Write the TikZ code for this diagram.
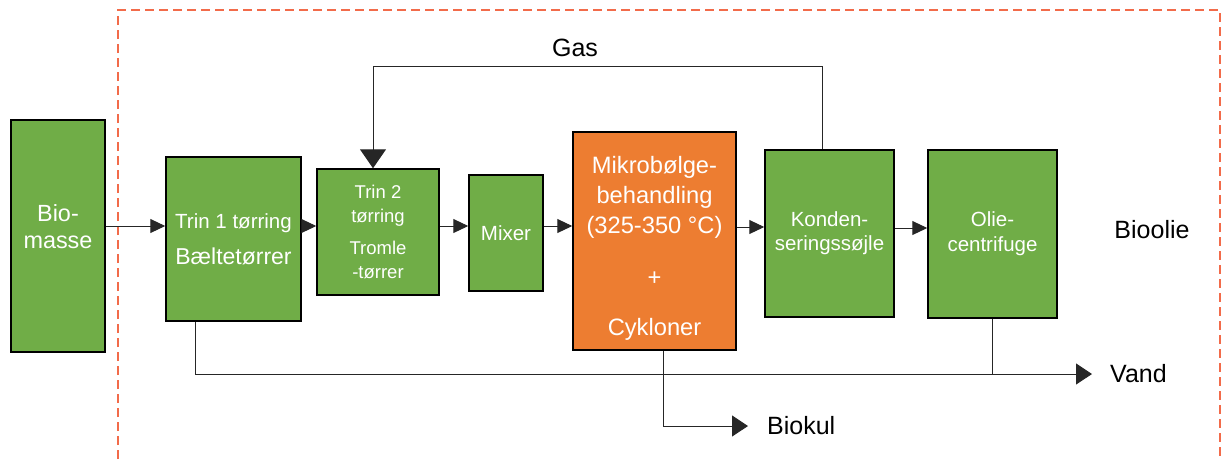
\documentclass[tikz,border=0pt]{standalone}
\usepackage{fontspec}
\setmainfont{Liberation Sans}
\usetikzlibrary{arrows.meta,calc}
\definecolor{boxgreen}{HTML}{70AD47}
\definecolor{boxorange}{HTML}{ED7D31}
\definecolor{dashred}{HTML}{F26B4A}
\newcommand\shiftlines[2]{\raisebox{#1}[\height][\depth]{\begin{tabular}{@{}c@{}}#2\end{tabular}}}
\begin{document}
\begin{tikzpicture}[x=1pt,y=-1pt,
  box/.style={draw=black,line width=1.5pt,fill=boxgreen,text=white,align=center,inner sep=0pt},
  flow/.style={draw=black!85,line width=1pt},
  arr/.style={flow,-{Triangle[length=15pt,width=14pt]}},
  bigarr/.style={flow,-{Triangle[length=16pt,width=21pt]}},
  gasarr/.style={flow,-{Triangle[length=19pt,width=26pt]}},
  lbl/.style={text=black,inner sep=0pt,font=\fontsize{25}{30}\selectfont}]
\useasboundingbox (0,0) rectangle (1222,459);
\draw[dashred,line width=1.5pt,dash pattern=on 9pt off 5pt] (118,459) -- (118,10) -- (1220,10) -- (1220,459);

\node[box,align=none,minimum width=94pt,minimum height=232pt,font=\fontsize{23.4}{27}\selectfont] (bio) at (58,236) {\shiftlines{6pt}{Bio-\\masse}};
\node[box,minimum width=135pt,minimum height=164pt,font=\fontsize{20.5}{24}\selectfont] (t1) at (233.5,239) {Trin 1 tørring\\[12pt]{\fontsize{23}{24}\selectfont Bæltetørrer}};
\node[box,minimum width=122pt,minimum height=126pt,font=\fontsize{18.5}{24}\selectfont] (t2) at (378,232) {Trin 2\\tørring\\[8pt]Tromle\\-tørrer};
\node[box,minimum width=74pt,minimum height=116pt,font=\fontsize{20.5}{24}\selectfont] (mix) at (506,233) {Mixer};
\node[box,align=none,fill=boxorange,minimum width=163pt,minimum height=218pt,font=\fontsize{23.7}{30}\selectfont] (mik) at (654.5,241) {\shiftlines{-7pt}{Mikrobølge-\\behandling\\(325-350 °C)\\[22pt]+\\[20pt]Cykloner}};
\node[box,minimum width=129pt,minimum height=167pt,font=\fontsize{20.5}{24}\selectfont] (kon) at (829.5,233.5) {Konden-\\seringssøjle};
\node[box,minimum width=129pt,minimum height=168pt,font=\fontsize{20.5}{25}\selectfont] (olie) at (992.5,234) {Olie-\\centrifuge};

\node[lbl] (gas) at (575,48) {Gas};
\node[lbl] (bioolie) at (1152,230) {Bioolie};
\node[lbl,anchor=west] (vand) at (1110,374) {Vand};
\node[lbl,anchor=west] (biokul) at (767,426) {Biokul};

\coordinate (f1) at (0,226);
\coordinate (f2) at (0,227);
\coordinate (f3) at (0,228);
\draw[arr] (bio.east |- f1) -- (t1.west |- f1);
\draw[arr] (t1.east |- f1) -- (t2.west |- f1);
\draw[arr] (t2.east |- f1) -- (mix.west |- f1);
\draw[arr] (mix.east |- f1) -- (mik.west |- f1);
\draw[arr] (mik.east |- f2) -- (kon.west |- f2);
\draw[arr] (kon.east |- f3) -- (olie.west |- f3);

\coordinate (gasL) at (373,66);
\coordinate (gasR) at (822,66);
\draw[gasarr] (kon.north -| gasR) -- (gasR) -- (gasL) -- (t2.north -| gasL);

\coordinate (v0) at (195,374);
\coordinate (vj) at (992,374);
\coordinate (vandend) at (1092,374);
\draw[bigarr] (t1.south -| v0) -- (v0) -- (vandend);
\draw[flow] (olie.south -| vj) -- (vj);

\coordinate (bk) at (663,426);
\coordinate (bkend) at (748,426);
\draw[bigarr] (mik.south -| bk) -- (bk) -- (bkend);
\end{tikzpicture}
\end{document}
